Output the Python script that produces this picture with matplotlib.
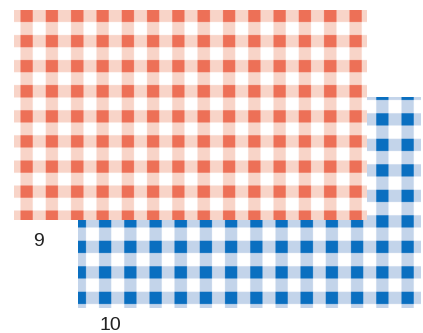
import numpy as np
import matplotlib
matplotlib.use("Agg")
import matplotlib.pyplot as plt
from matplotlib.colors import to_rgb

# ---- data -------------------------------------------------------------
labels = ["9", "10"]
dark_colors = ["#EE7058", "#0B6FC0"]
pale_colors = ["#F9D5C9", "#C4D5EB"]
white = "#FFFFFF"
# image extents (left, right, top, bottom) in figure pixels
extents = [(14, 367, 10.5, 220.5), (78, 421, 97.5, 308.5)]
# stripe grid: first stripe origin, period, stripe width (x then y)
col_origin = [20.5, 99.0]
row_origin = [10.3, 113.7]
col_period = [25.3, 25.2]
row_period = [25.1, 25.5]
stripe_width = [12.3, 12.3]
label_pos = [(38, 242), (110, 326)]

W, H = 423, 333
fig = plt.figure(figsize=(W / 100, H / 100), dpi=100)
ax = fig.add_axes([0, 0, 1, 1])
ax.set_xlim(0, W)
ax.set_ylim(H, 0)
ax.axis("off")


def gingham(i, ss=4):
    l, r, t, b = extents[i]
    nx = int(round((r - l) * ss))
    ny = int(round((b - t) * ss))
    xs = l + (np.arange(nx) + 0.5) / ss
    ys = t + (np.arange(ny) + 0.5) / ss
    cx = ((xs - col_origin[i]) % col_period[i]) < stripe_width[i]
    ry = ((ys - row_origin[i]) % row_period[i]) < stripe_width[i]
    n = cx[None, :].astype(int) + ry[:, None].astype(int)
    d = np.array(to_rgb(dark_colors[i]))
    p = np.array(to_rgb(pale_colors[i]))
    w = np.array(to_rgb(white))
    img = np.empty((ny, nx, 3))
    img[n == 0] = w
    img[n == 1] = p
    img[n == 2] = d
    return img


# blue first, red on top
for i in [1, 0]:
    l, r, t, b = extents[i]
    ax.imshow(gingham(i), extent=(l, r, b, t), interpolation="antialiased",
              zorder=2 if i == 0 else 1, aspect="auto")

for lab, (x, y) in zip(labels, label_pos):
    ax.text(x, y, lab, ha="center", va="center", fontsize=14,
            family="Liberation Sans", color="#222222")

ax.set_xlim(0, W)
ax.set_ylim(H, 0)
fig.savefig("out.png", dpi=100)
